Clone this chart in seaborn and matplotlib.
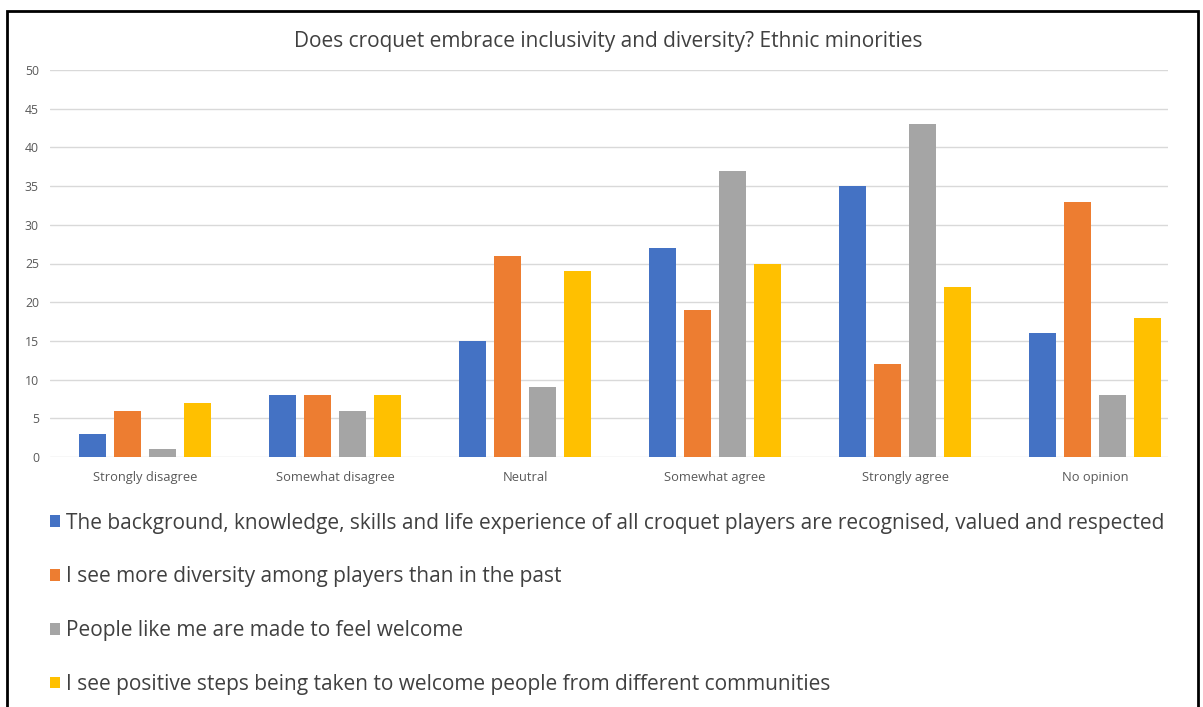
import matplotlib
matplotlib.use("Agg")
import matplotlib.pyplot as plt
from matplotlib.patches import Rectangle
import seaborn as sns
import pandas as pd

categories = ["Strongly disagree", "Somewhat disagree", "Neutral",
              "Somewhat agree", "Strongly agree", "No opinion"]
series_names = [
    "The background, knowledge, skills and life experience of all croquet players are recognised, valued and respected",
    "I see more diversity among players than in the past",
    "People like me are made to feel welcome",
    "I see positive steps being taken to welcome people from different communities",
]
background_vals = [3, 8, 15, 27, 35, 16]
diversity_vals = [6, 8, 26, 19, 12, 33]
welcome_vals = [1, 6, 9, 37, 43, 8]
positive_vals = [7, 8, 24, 25, 22, 18]
y_ticks = [0, 5, 10, 15, 20, 25, 30, 35, 40, 45, 50]
title = "Does croquet embrace inclusivity and diversity? Ethnic minorities"
colors = ["#4472C4", "#ED7D31", "#A5A5A5", "#FFC000"]

rows = []
for name, vals in zip(series_names, [background_vals, diversity_vals, welcome_vals, positive_vals]):
    for c, v in zip(categories, vals):
        rows.append({"category": c, "series": name, "value": v})
df = pd.DataFrame(rows)

sns.set_theme(style="white")
plt.rcParams['font.family'] = ['Open Sans', 'DejaVu Sans']

fig = plt.figure(figsize=(12.03, 7.07), dpi=100)
ax = fig.add_axes([50/1203, 250/707, 1118/1203, 387/707])

sns.barplot(data=df, x="category", y="value", hue="series", order=categories,
            hue_order=series_names, palette=colors, width=0.74, gap=0.22,
            saturation=1, linewidth=0, ax=ax, legend=True)

ax.set_xlim(-0.5, 5.384)
ax.set_ylim(0, 50)
ax.set_yticks(y_ticks)
ax.yaxis.grid(True, color="#d9d9d9", linewidth=1)
ax.set_axisbelow(True)
for s in ax.spines.values():
    s.set_visible(False)
ax.tick_params(axis="both", length=0, labelcolor="#595959")
ax.tick_params(axis="x", labelsize=9.3, pad=10)
ax.tick_params(axis="y", labelsize=8.8, pad=8)
ax.set_xlabel("")
ax.set_ylabel("")

fig.text(608/1203, 1 - 41/707, title, ha="center", va="center",
         fontsize=15, color="#404040")

handles, labels = ax.get_legend_handles_labels()
ax.get_legend().remove()
fig.legend(handles, labels, loc="upper left", bbox_to_anchor=(31/1203, 1 - 494/707),
           frameon=False, fontsize=15, handlelength=0.5, handleheight=0.5,
           handletextpad=0.3, labelspacing=1.57, labelcolor="#404040")

fig.patches.append(Rectangle((7/1203, -0.05), (1198-7)/1203, 1.05 - 11/707,
                             transform=fig.transFigure, fill=False,
                             edgecolor="black", linewidth=2))

fig.savefig("out.png", dpi=100)
